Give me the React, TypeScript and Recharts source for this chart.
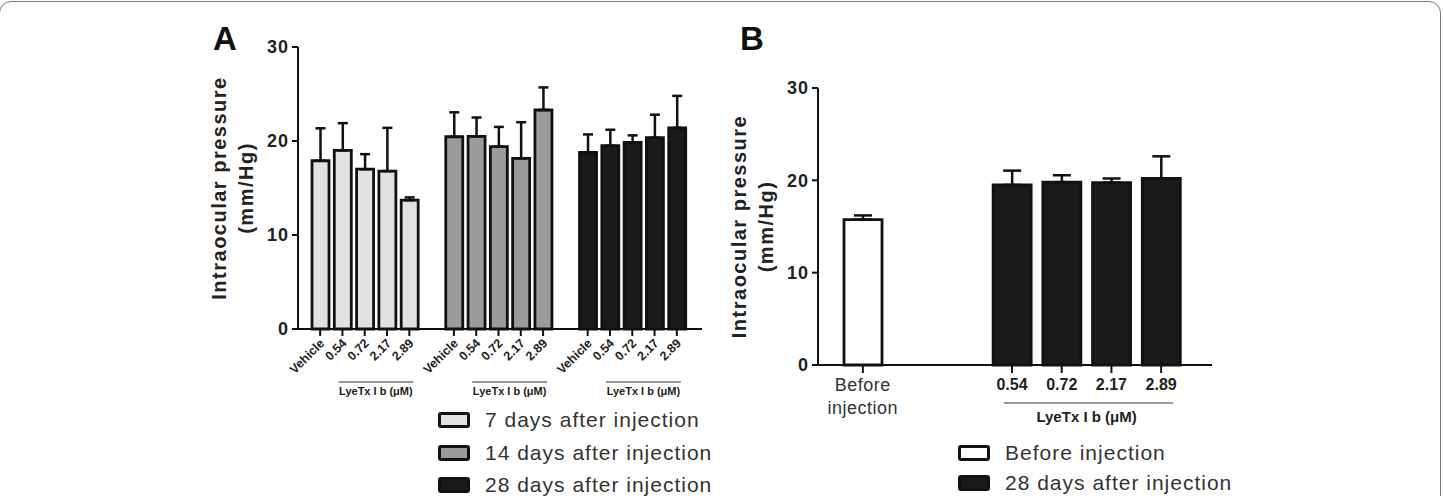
import React from "react";
import { BarChart, Bar, XAxis, YAxis, Cell, ErrorBar } from "recharts";

const FONT = "'Liberation Sans', Arial, Helvetica, sans-serif";

// ---- panel A ----
const doseLabels = ["Vehicle", "0.54", "0.72", "2.17", "2.89"];
const groupNames = ["7 days after injection", "14 days after injection", "28 days after injection"];
const groupColors = ["#e1e1e1", "#9b9b9b", "#1a1a1a"];
const day7Mean = [17.9, 19.0, 17.0, 16.8, 13.7];
const day7Err = [3.45, 2.9, 1.6, 4.6, 0.3];
const day14Mean = [20.45, 20.5, 19.4, 18.15, 23.3];
const day14Err = [2.6, 2.0, 2.1, 3.85, 2.4];
const day28Mean = [18.8, 19.5, 19.85, 20.35, 21.4];
const day28Err = [1.9, 1.7, 0.75, 2.45, 3.4];
const yTicks = [0, 10, 20, 30];

// ---- panel B ----
const bLabels = ["Before injection", "0.54", "0.72", "2.17", "2.89"];
const bMean = [15.75, 19.5, 19.8, 19.75, 20.2];
const bErr = [0.45, 1.55, 0.75, 0.45, 2.4];
const bNames = ["Before injection", "28 days after injection"];
const bColors = ["#ffffff", "#1a1a1a"];

type Row = { key: string; label: string; dose: number; value?: number; err?: number[]; fill?: string };

const meansA = [day7Mean, day14Mean, day28Mean];
const errsA = [day7Err, day14Err, day28Err];
const rowsA: Row[] = [];
meansA.forEach((m, g) => {
  if (g > 0) rowsA.push({ key: `gap${g}`, label: "", dose: -1 });
  m.forEach((v, i) =>
    rowsA.push({ key: `a${g}-${i}`, label: doseLabels[i], dose: i, value: v, err: [0, errsA[g][i]], fill: groupColors[g] })
  );
});

const rowsB: Row[] = [];
bMean.forEach((v, i) => {
  rowsB.push({ key: `b${i}`, label: bLabels[i], dose: i - 1, value: v, err: [0, bErr[i]], fill: i === 0 ? bColors[0] : bColors[1] });
  if (i === 0) {
    rowsB.push({ key: "gapB1", label: "", dose: -2 });
    rowsB.push({ key: "gapB2", label: "", dose: -2 });
  }
});

// slot widths (plot width minus padding, over categories)
const STEP_A = (404 - 11 - 14) / rowsA.length;
const STEP_B = (394 - 20 - 26) / rowsB.length;

const axisStyle = { stroke: "#111", strokeWidth: 2 };
const yTickStyle = { fontSize: 18, fontWeight: "bold", fill: "#222", fontFamily: FONT, letterSpacing: 1 };

function TickA(props: any) {
  const { x, y, payload } = props;
  const row = rowsA.find((r) => r.key === payload.value);
  if (!row || row.dose < 0) return null;
  const tx = x + 5;
  const ty = y + 15;
  return (
    <g>
      <line x1={x} x2={x} y1={y} y2={y + 7} stroke="#111" strokeWidth={2} />
      <text x={tx} y={ty} transform={`rotate(-45 ${tx} ${ty})`} textAnchor="end" fontSize={12.5} fontWeight="bold" fill="#222" fontFamily={FONT}>
        {row.label}
      </text>
      {row.dose > 0 && (
        <line
          x1={row.dose === 1 ? x - 4 : x - STEP_A / 2}
          x2={row.dose === 4 ? x + 4 : x + STEP_A / 2}
          y1={y + 53}
          y2={y + 53}
          stroke="#333"
          strokeWidth={1}
        />
      )}
      {row.dose === 2 && (
        <text x={x + STEP_A / 2} y={y + 66} textAnchor="middle" fontSize={11} fontWeight="bold" fill="#222" fontFamily={FONT}>
          LyeTx I b (μM)
        </text>
      )}
    </g>
  );
}

function TickB(props: any) {
  const { x, y, payload } = props;
  const row = rowsB.find((r) => r.key === payload.value);
  if (!row || row.dose < -1) return null;
  if (row.dose === -1) {
    const [l1, l2] = row.label.split(" ");
    return (
      <g>
        <line x1={x} x2={x} y1={y} y2={y + 8} stroke="#111" strokeWidth={2} />
        <text textAnchor="middle" fontSize={18} fill="#333" fontFamily={FONT} letterSpacing={0.5}>
          <tspan x={x} y={y + 26}>{l1}</tspan>
          <tspan x={x} y={y + 49}>{l2}</tspan>
        </text>
      </g>
    );
  }
  return (
    <g>
      <line x1={x} x2={x} y1={y} y2={y + 8} stroke="#111" strokeWidth={2} />
      <text x={x} y={y + 25} textAnchor="middle" fontSize={16} fontWeight="bold" fill="#222" fontFamily={FONT}>
        {row.label}
      </text>
      <line
        x1={row.dose === 0 ? x - 8 : x - STEP_B / 2}
        x2={row.dose === 3 ? x + 12 : x + STEP_B / 2}
        y1={y + 38}
        y2={y + 38}
        stroke="#333"
        strokeWidth={1}
      />
      {row.dose === 1 && (
        <text x={x + STEP_B / 2} y={y + 57} textAnchor="middle" fontSize={15} fontWeight="bold" fill="#222" fontFamily={FONT}>
          LyeTx I b (μM)
        </text>
      )}
    </g>
  );
}

function YTitle(props: any) {
  const vb = props.viewBox || { x: 58, y: 0, width: 60, height: 0 };
  const cy = vb.y + vb.height / 2;
  const x1 = vb.x - 12;
  const x2 = vb.x + 15;
  return (
    <g fontFamily={FONT} fontWeight="bold" fontSize={20} fill="#222" letterSpacing={1.5}>
      <text x={x1} y={cy} textAnchor="middle" transform={`rotate(-90 ${x1} ${cy})`}>
        Intraocular pressure
      </text>
      <text x={x2} y={cy} textAnchor="middle" transform={`rotate(-90 ${x2} ${cy})`}>
        (mm/Hg)
      </text>
    </g>
  );
}

function LegendRow({ left, top, fill, text }: { left: number; top: number; fill: string; text: string }) {
  return (
    <div style={{ position: "absolute", left, top: top - 12, height: 24, display: "flex", alignItems: "center" }}>
      <div
        style={{
          width: 32,
          height: 16,
          boxSizing: "border-box",
          border: "3px solid #111",
          borderRadius: 3,
          background: fill,
        }}
      />
      <span style={{ marginLeft: 15, fontFamily: FONT, fontSize: 21, letterSpacing: 1, color: "#333", whiteSpace: "nowrap" }}>{text}</span>
    </div>
  );
}

export default function App() {
  return (
    <div style={{ position: "absolute", left: 0, top: 0, width: 1443, height: 496, overflow: "hidden", background: "#fff" }}>
      <div
        style={{
          position: "absolute",
          left: -1,
          top: 1,
          width: 1442,
          height: 560,
          boxSizing: "border-box",
          border: "1.5px solid #777",
          borderRadius: 12,
        }}
      />
      <div style={{ position: "absolute", left: 213, top: 23, fontFamily: FONT, fontWeight: "bold", fontSize: 33, lineHeight: "32px", color: "#111" }}>A</div>
      <div style={{ position: "absolute", left: 740, top: 23, fontFamily: FONT, fontWeight: "bold", fontSize: 33, lineHeight: "32px", color: "#111" }}>B</div>

      <div style={{ position: "absolute", left: 180, top: 0 }}>
        <BarChart width={540} height={400} data={rowsA} margin={{ top: 47, right: 18, bottom: 11, left: 58 }} barSize={17}>
          <XAxis
            dataKey="key"
            interval={0}
            tick={<TickA />}
            tickLine={false}
            tickSize={0}
            tickMargin={0}
            height={60}
            axisLine={axisStyle}
            padding={{ left: 11, right: 14 }}
          />
          <YAxis
            domain={[0, 30]}
            ticks={yTicks}
            width={60}
            tickSize={6}
            tickMargin={3}
            axisLine={axisStyle}
            tickLine={axisStyle}
            tick={yTickStyle}
            label={<YTitle />}
          />
          <Bar dataKey="value" stroke="#111" strokeWidth={2.8} isAnimationActive={false}>
            {rowsA.map((r) => (
              <Cell key={r.key} fill={r.fill || "none"} />
            ))}
            <ErrorBar dataKey="err" direction="y" width={5} stroke="#111" strokeWidth={2.5} />
          </Bar>
        </BarChart>
      </div>

      <div style={{ position: "absolute", left: 700, top: 0 }}>
        <BarChart width={560} height={440} data={rowsB} margin={{ top: 88, right: 48, bottom: 15, left: 58 }} barSize={38}>
          <XAxis
            dataKey="key"
            interval={0}
            tick={<TickB />}
            tickLine={false}
            tickSize={0}
            tickMargin={0}
            height={60}
            axisLine={axisStyle}
            padding={{ left: 20, right: 26 }}
          />
          <YAxis
            domain={[0, 30]}
            ticks={yTicks}
            width={60}
            tickSize={6}
            tickMargin={3}
            axisLine={axisStyle}
            tickLine={axisStyle}
            tick={yTickStyle}
            label={<YTitle />}
          />
          <Bar dataKey="value" stroke="#111" strokeWidth={2.8} isAnimationActive={false}>
            {rowsB.map((r) => (
              <Cell key={r.key} fill={r.fill || "none"} />
            ))}
            <ErrorBar dataKey="err" direction="y" width={9} stroke="#111" strokeWidth={2.5} />
          </Bar>
        </BarChart>
      </div>

      {groupNames.map((name, i) => (
        <LegendRow key={name} left={438} top={[420, 453, 485][i]} fill={groupColors[i]} text={name} />
      ))}
      {bNames.map((name, i) => (
        <LegendRow key={name} left={958} top={[453, 483][i]} fill={bColors[i]} text={name} />
      ))}
    </div>
  );
}
